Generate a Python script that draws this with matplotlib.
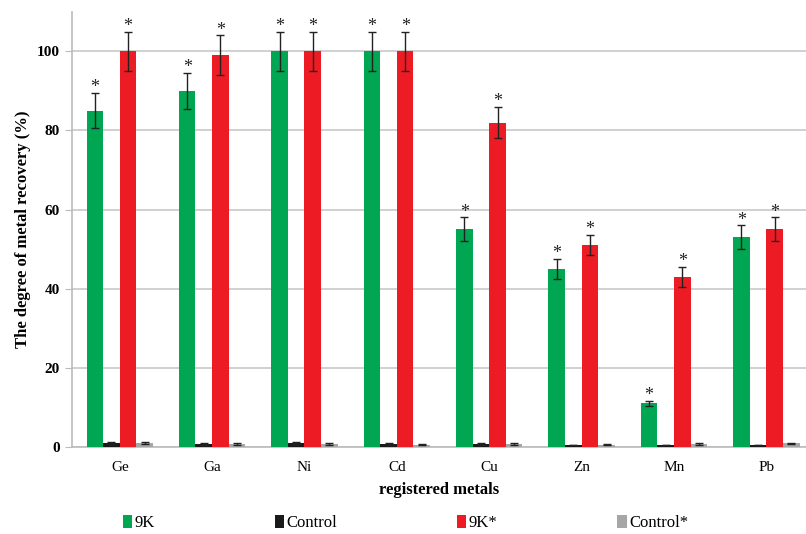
import numpy as np
import matplotlib
matplotlib.use("Agg")
import matplotlib.pyplot as plt

plt.rcParams['font.family'] = ['Liberation Serif', 'DejaVu Serif']

# ---------------------------------------------------------------------------
# Data
# ---------------------------------------------------------------------------
metals = ["Ge", "Ga", "Ni", "Cd", "Cu", "Zn", "Mn", "Pb"]
k9 = [85, 90, 100, 100, 55, 45, 11, 53]
k9_err = [4.5, 4.5, 5, 5, 3, 2.5, 0.7, 3]
control = [1.0, 0.8, 1.0, 0.7, 0.8, 0.5, 0.5, 0.5]
control_err = [0.2, 0.2, 0.2, 0.2, 0.2, 0.1, 0.1, 0.1]
k9s = [100, 99, 100, 100, 82, 51, 43, 55]
k9s_err = [5, 5, 5, 5, 4, 2.5, 2.5, 3]
controls = [1.0, 0.8, 0.7, 0.6, 0.8, 0.6, 0.8, 0.9]
controls_err = [0.2, 0.2, 0.2, 0.2, 0.2, 0.1, 0.2, 0.2]

series = [
    ("9K", k9, k9_err, "#00a651", True),
    ("Control", control, control_err, "#1a1a1a", False),
    ("9K*", k9s, k9s_err, "#ed1c24", True),
    ("Control*", controls, controls_err, "#a6a6a6", False),
]

# ---------------------------------------------------------------------------
# Plot
# ---------------------------------------------------------------------------
fig = plt.figure(figsize=(8.06, 5.34), dpi=100)
ax = fig.add_axes([0.089, 0.163, 0.911, 0.815])

x = np.arange(len(metals))
width = 0.18
for i, (name, vals, errs, color, star) in enumerate(series):
    pos = x + (i - 1.5) * width
    ax.bar(pos, vals, width, color=color, label=name, zorder=3,
           yerr=errs, capsize=3,
           error_kw=dict(ecolor="#222222", elinewidth=1, capthick=1, zorder=4))
    if star:
        for p, v, e in zip(pos, vals, errs):
            ax.text(p, v + e - 0.8, "*", ha="center", va="bottom",
                    fontsize=13, color="#222222", zorder=5)

ax.set_ylim(0, 110)
ax.set_xlim(-0.52, len(metals) - 0.57)
ax.set_yticks([0, 20, 40, 60, 80, 100])
ax.set_xticks(x)
ax.set_xticklabels(metals, fontsize=11)
ax.tick_params(axis="x", length=0, pad=10)
ax.tick_params(axis="y", length=5, color="#bbbbbb", labelsize=11)
for lab in ax.get_yticklabels():
    lab.set_fontweight("bold")
ax.yaxis.grid(True, color="#c8c8c8", linewidth=1.2, zorder=0)

for side in ["top", "right"]:
    ax.spines[side].set_visible(False)
ax.spines["left"].set_color("#bbbbbb")
ax.spines["bottom"].set_color("#bbbbbb")
ax.spines["left"].set_linewidth(1.2)
ax.spines["bottom"].set_linewidth(1.2)

ax.set_ylabel("The degree of metal recovery (%)", fontsize=12, fontweight="bold")
ax.set_xlabel("registered metals", fontsize=12, fontweight="bold", labelpad=6)

fig.legend(loc="center", bbox_to_anchor=(0.503, 0.02), ncol=4,
           frameon=False, fontsize=12, handlelength=0.55, handleheight=0.75,
           handletextpad=0.15, columnspacing=7.2, borderpad=0)

fig.savefig("out.png", dpi=100)
